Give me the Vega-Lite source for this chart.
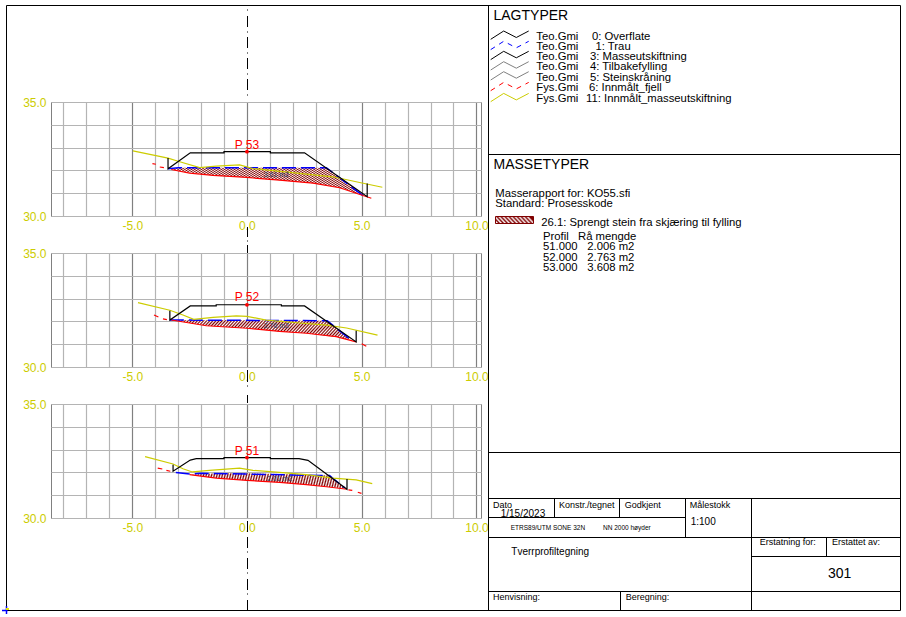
{"$schema":"https://vega.github.io/schema/vega-lite/v6.json","padding":0,"bounds":"flush","spacing":437,"background":"white",
"config":{"view":{"stroke":"#808080"},"text":{"font":"Liberation Sans","baseline":"middle","align":"left"},"axis":{"labelFont":"Liberation Sans"},
"area":{"fill":{"gradient":"linear","x1":0,"y1":1,"x2":1.17,"y2":0.72,"stops":[{"offset":0,"color":"#800000"},{"offset":0.007,"color":"#fff"},{"offset":0.014,"color":"#800000"},{"offset":0.021,"color":"#fff"},{"offset":0.028,"color":"#800000"},{"offset":0.035,"color":"#fff"},{"offset":0.042,"color":"#800000"},{"offset":0.049,"color":"#fff"},{"offset":0.056,"color":"#800000"},{"offset":0.063,"color":"#fff"},{"offset":0.07,"color":"#800000"},{"offset":0.077,"color":"#fff"},{"offset":0.084,"color":"#800000"},{"offset":0.091,"color":"#fff"},{"offset":0.098,"color":"#800000"},{"offset":0.105,"color":"#fff"},{"offset":0.112,"color":"#800000"},{"offset":0.119,"color":"#fff"},{"offset":0.126,"color":"#800000"},{"offset":0.133,"color":"#fff"},{"offset":0.14,"color":"#800000"},{"offset":0.147,"color":"#fff"},{"offset":0.154,"color":"#800000"},{"offset":0.161,"color":"#fff"},{"offset":0.168,"color":"#800000"},{"offset":0.175,"color":"#fff"},{"offset":0.182,"color":"#800000"},{"offset":0.189,"color":"#fff"},{"offset":0.196,"color":"#800000"},{"offset":0.203,"color":"#fff"},{"offset":0.21,"color":"#800000"},{"offset":0.217,"color":"#fff"},{"offset":0.224,"color":"#800000"},{"offset":0.231,"color":"#fff"},{"offset":0.238,"color":"#800000"},{"offset":0.245,"color":"#fff"},{"offset":0.252,"color":"#800000"},{"offset":0.259,"color":"#fff"},{"offset":0.266,"color":"#800000"},{"offset":0.273,"color":"#fff"},{"offset":0.28,"color":"#800000"},{"offset":0.287,"color":"#fff"},{"offset":0.294,"color":"#800000"},{"offset":0.301,"color":"#fff"},{"offset":0.308,"color":"#800000"},{"offset":0.315,"color":"#fff"},{"offset":0.322,"color":"#800000"},{"offset":0.329,"color":"#fff"},{"offset":0.336,"color":"#800000"},{"offset":0.343,"color":"#fff"},{"offset":0.35,"color":"#800000"},{"offset":0.357,"color":"#fff"},{"offset":0.364,"color":"#800000"},{"offset":0.371,"color":"#fff"},{"offset":0.378,"color":"#800000"},{"offset":0.385,"color":"#fff"},{"offset":0.392,"color":"#800000"},{"offset":0.399,"color":"#fff"},{"offset":0.406,"color":"#800000"},{"offset":0.413,"color":"#fff"},{"offset":0.42,"color":"#800000"},{"offset":0.427,"color":"#fff"},{"offset":0.434,"color":"#800000"},{"offset":0.441,"color":"#fff"},{"offset":0.448,"color":"#800000"},{"offset":0.455,"color":"#fff"},{"offset":0.462,"color":"#800000"},{"offset":0.469,"color":"#fff"},{"offset":0.476,"color":"#800000"},{"offset":0.483,"color":"#fff"},{"offset":0.49,"color":"#800000"},{"offset":0.497,"color":"#fff"},{"offset":0.504,"color":"#800000"},{"offset":0.511,"color":"#fff"},{"offset":0.518,"color":"#800000"},{"offset":0.525,"color":"#fff"},{"offset":0.532,"color":"#800000"},{"offset":0.539,"color":"#fff"},{"offset":0.546,"color":"#800000"},{"offset":0.553,"color":"#fff"},{"offset":0.56,"color":"#800000"},{"offset":0.567,"color":"#fff"},{"offset":0.574,"color":"#800000"},{"offset":0.581,"color":"#fff"},{"offset":0.588,"color":"#800000"},{"offset":0.595,"color":"#fff"},{"offset":0.602,"color":"#800000"},{"offset":0.609,"color":"#fff"},{"offset":0.616,"color":"#800000"},{"offset":0.623,"color":"#fff"},{"offset":0.63,"color":"#800000"},{"offset":0.637,"color":"#fff"},{"offset":0.644,"color":"#800000"},{"offset":0.651,"color":"#fff"},{"offset":0.658,"color":"#800000"},{"offset":0.665,"color":"#fff"},{"offset":0.672,"color":"#800000"},{"offset":0.679,"color":"#fff"},{"offset":0.686,"color":"#800000"},{"offset":0.693,"color":"#fff"},{"offset":0.7,"color":"#800000"},{"offset":0.707,"color":"#fff"},{"offset":0.714,"color":"#800000"},{"offset":0.721,"color":"#fff"},{"offset":0.728,"color":"#800000"},{"offset":0.735,"color":"#fff"},{"offset":0.742,"color":"#800000"},{"offset":0.749,"color":"#fff"},{"offset":0.756,"color":"#800000"},{"offset":0.763,"color":"#fff"},{"offset":0.77,"color":"#800000"},{"offset":0.777,"color":"#fff"},{"offset":0.784,"color":"#800000"},{"offset":0.791,"color":"#fff"},{"offset":0.798,"color":"#800000"},{"offset":0.805,"color":"#fff"},{"offset":0.812,"color":"#800000"},{"offset":0.819,"color":"#fff"},{"offset":0.826,"color":"#800000"},{"offset":0.833,"color":"#fff"},{"offset":0.84,"color":"#800000"},{"offset":0.847,"color":"#fff"},{"offset":0.854,"color":"#800000"},{"offset":0.861,"color":"#fff"},{"offset":0.868,"color":"#800000"},{"offset":0.875,"color":"#fff"},{"offset":0.882,"color":"#800000"},{"offset":0.889,"color":"#fff"},{"offset":0.896,"color":"#800000"},{"offset":0.903,"color":"#fff"},{"offset":0.91,"color":"#800000"},{"offset":0.917,"color":"#fff"},{"offset":0.924,"color":"#800000"},{"offset":0.931,"color":"#fff"},{"offset":0.938,"color":"#800000"},{"offset":0.945,"color":"#fff"},{"offset":0.952,"color":"#800000"},{"offset":0.959,"color":"#fff"},{"offset":0.966,"color":"#800000"},{"offset":0.973,"color":"#fff"},{"offset":0.98,"color":"#800000"},{"offset":0.987,"color":"#fff"},{"offset":0.994,"color":"#800000"},{"offset":1,"color":"#fff"}]}}},
"datasets":{
"profiles":[
{"p":"P 53","kind":"hatch","x":-3.3,"y":32.04,"y2":32.04},{"p":"P 53","kind":"hatch","x":-3.0,"y":32.12,"y2":31.97},{"p":"P 53","kind":"hatch","x":-1.48,"y":32.12,"y2":31.78},{"p":"P 53","kind":"hatch","x":0,"y":32.12,"y2":31.69},{"p":"P 53","kind":"hatch","x":1.42,"y":32.12,"y2":31.57},{"p":"P 53","kind":"hatch","x":2.88,"y":32.12,"y2":31.44},{"p":"P 53","kind":"hatch","x":3.46,"y":32.1,"y2":31.34},{"p":"P 53","kind":"hatch","x":4.04,"y":31.69,"y2":31.24},{"p":"P 53","kind":"hatch","x":4.76,"y":31.19,"y2":31.0},{"p":"P 53","kind":"hatch","x":5.05,"y":30.95,"y2":30.9},
{"p":"P 52","kind":"hatch","x":-3.3,"y":32.06,"y2":32.06},{"p":"P 52","kind":"hatch","x":-2.5,"y":32.05,"y2":31.93},{"p":"P 52","kind":"hatch","x":-1.77,"y":32.05,"y2":31.81},{"p":"P 52","kind":"hatch","x":0,"y":32.05,"y2":31.7},{"p":"P 52","kind":"hatch","x":1.42,"y":32.04,"y2":31.56},{"p":"P 52","kind":"hatch","x":2.59,"y":32.03,"y2":31.48},{"p":"P 52","kind":"hatch","x":3.5,"y":32.03,"y2":31.36},{"p":"P 52","kind":"hatch","x":3.89,"y":31.71,"y2":31.33},{"p":"P 52","kind":"hatch","x":4.5,"y":31.2,"y2":31.2},
{"p":"P 51","kind":"hatch","x":-2.5,"y":31.9,"y2":31.9},{"p":"P 51","kind":"hatch","x":-1.34,"y":31.96,"y2":31.75},{"p":"P 51","kind":"hatch","x":0,"y":31.96,"y2":31.65},{"p":"P 51","kind":"hatch","x":1.42,"y":31.93,"y2":31.56},{"p":"P 51","kind":"hatch","x":2.59,"y":31.9,"y2":31.46},{"p":"P 51","kind":"hatch","x":3.6,"y":31.86,"y2":31.36},{"p":"P 51","kind":"hatch","x":4.26,"y":31.32,"y2":31.29},
{"p":"P 53","kind":"dash","layer":"Trau","seg":"a","i":0,"x":-3.44,"y":32.07},{"p":"P 53","kind":"dash","layer":"Trau","seg":"a","i":1,"x":-3.0,"y":32.12},{"p":"P 53","kind":"dash","layer":"Trau","seg":"a","i":2,"x":3.46,"y":32.12},{"p":"P 53","kind":"dash","layer":"Trau","seg":"a","i":3,"x":5.05,"y":30.9},
{"p":"P 52","kind":"dash","layer":"Trau","seg":"a","i":0,"x":-3.36,"y":32.06},{"p":"P 52","kind":"dash","layer":"Trau","seg":"a","i":1,"x":3.5,"y":32.03},{"p":"P 52","kind":"dash","layer":"Trau","seg":"a","i":2,"x":4.45,"y":31.25},
{"p":"P 51","kind":"dash","layer":"Trau","seg":"a","i":0,"x":-3.1,"y":32.0},{"p":"P 51","kind":"dash","layer":"Trau","seg":"a","i":1,"x":-2.5,"y":31.93},{"p":"P 51","kind":"dash","layer":"Trau","seg":"a","i":2,"x":-2.0,"y":31.96},{"p":"P 51","kind":"dash","layer":"Trau","seg":"a","i":3,"x":3.6,"y":31.86},{"p":"P 51","kind":"dash","layer":"Trau","seg":"a","i":4,"x":4.26,"y":31.32},
{"p":"P 53","kind":"line","layer":"Innmalt_fjell","seg":"a","i":0,"x":-4.12,"y":32.3},{"p":"P 53","kind":"line","layer":"Innmalt_fjell","seg":"a","i":1,"x":-3.97,"y":32.27},{"p":"P 53","kind":"line","layer":"Innmalt_fjell","seg":"b","i":2,"x":-3.8,"y":32.15},{"p":"P 53","kind":"line","layer":"Innmalt_fjell","seg":"b","i":3,"x":-3.62,"y":32.12},{"p":"P 53","kind":"line","layer":"Innmalt_fjell","seg":"c","i":4,"x":-3.3,"y":32.04},{"p":"P 53","kind":"line","layer":"Innmalt_fjell","seg":"c","i":5,"x":-2.5,"y":31.88},{"p":"P 53","kind":"line","layer":"Innmalt_fjell","seg":"c","i":6,"x":-1.48,"y":31.78},{"p":"P 53","kind":"line","layer":"Innmalt_fjell","seg":"c","i":7,"x":0,"y":31.69},{"p":"P 53","kind":"line","layer":"Innmalt_fjell","seg":"c","i":8,"x":1.42,"y":31.57},{"p":"P 53","kind":"line","layer":"Innmalt_fjell","seg":"c","i":9,"x":2.88,"y":31.44},{"p":"P 53","kind":"line","layer":"Innmalt_fjell","seg":"c","i":10,"x":4.04,"y":31.24},{"p":"P 53","kind":"line","layer":"Innmalt_fjell","seg":"c","i":11,"x":4.76,"y":31.0},{"p":"P 53","kind":"line","layer":"Innmalt_fjell","seg":"c","i":12,"x":5.42,"y":30.78},
{"p":"P 52","kind":"line","layer":"Innmalt_fjell","seg":"a","i":0,"x":-4.05,"y":32.28},{"p":"P 52","kind":"line","layer":"Innmalt_fjell","seg":"a","i":1,"x":-3.86,"y":32.19},{"p":"P 52","kind":"line","layer":"Innmalt_fjell","seg":"b","i":2,"x":-3.66,"y":32.11},{"p":"P 52","kind":"line","layer":"Innmalt_fjell","seg":"b","i":3,"x":-3.49,"y":32.08},{"p":"P 52","kind":"line","layer":"Innmalt_fjell","seg":"c","i":4,"x":-3.3,"y":32.06},{"p":"P 52","kind":"line","layer":"Innmalt_fjell","seg":"c","i":5,"x":-2.5,"y":31.93},{"p":"P 52","kind":"line","layer":"Innmalt_fjell","seg":"c","i":6,"x":-1.77,"y":31.81},{"p":"P 52","kind":"line","layer":"Innmalt_fjell","seg":"c","i":7,"x":0,"y":31.7},{"p":"P 52","kind":"line","layer":"Innmalt_fjell","seg":"c","i":8,"x":1.42,"y":31.56},{"p":"P 52","kind":"line","layer":"Innmalt_fjell","seg":"c","i":9,"x":2.59,"y":31.48},{"p":"P 52","kind":"line","layer":"Innmalt_fjell","seg":"c","i":10,"x":3.89,"y":31.33},{"p":"P 52","kind":"line","layer":"Innmalt_fjell","seg":"c","i":11,"x":4.76,"y":31.1},{"p":"P 52","kind":"line","layer":"Innmalt_fjell","seg":"d","i":12,"x":5.0,"y":31.02},{"p":"P 52","kind":"line","layer":"Innmalt_fjell","seg":"d","i":13,"x":5.2,"y":30.91},
{"p":"P 51","kind":"line","layer":"Innmalt_fjell","seg":"a","i":0,"x":-3.89,"y":32.19},{"p":"P 51","kind":"line","layer":"Innmalt_fjell","seg":"a","i":1,"x":-3.69,"y":32.15},{"p":"P 51","kind":"line","layer":"Innmalt_fjell","seg":"b","i":2,"x":-3.51,"y":32.09},{"p":"P 51","kind":"line","layer":"Innmalt_fjell","seg":"b","i":3,"x":-3.34,"y":32.05},{"p":"P 51","kind":"line","layer":"Innmalt_fjell","seg":"c","i":4,"x":-2.5,"y":31.9},{"p":"P 51","kind":"line","layer":"Innmalt_fjell","seg":"c","i":5,"x":-1.34,"y":31.75},{"p":"P 51","kind":"line","layer":"Innmalt_fjell","seg":"c","i":6,"x":0,"y":31.65},{"p":"P 51","kind":"line","layer":"Innmalt_fjell","seg":"c","i":7,"x":1.42,"y":31.56},{"p":"P 51","kind":"line","layer":"Innmalt_fjell","seg":"c","i":8,"x":2.59,"y":31.46},{"p":"P 51","kind":"line","layer":"Innmalt_fjell","seg":"c","i":9,"x":3.46,"y":31.37},{"p":"P 51","kind":"line","layer":"Innmalt_fjell","seg":"c","i":10,"x":4.36,"y":31.26},{"p":"P 51","kind":"line","layer":"Innmalt_fjell","seg":"d","i":11,"x":4.42,"y":31.23},{"p":"P 51","kind":"line","layer":"Innmalt_fjell","seg":"d","i":12,"x":4.59,"y":31.21},{"p":"P 51","kind":"line","layer":"Innmalt_fjell","seg":"e","i":13,"x":4.83,"y":31.13},{"p":"P 51","kind":"line","layer":"Innmalt_fjell","seg":"e","i":14,"x":4.99,"y":31.08},
{"p":"P 53","kind":"line","layer":"Innmalt_masseutskiftning","seg":"a","i":0,"x":-4.97,"y":32.86},{"p":"P 53","kind":"line","layer":"Innmalt_masseutskiftning","seg":"a","i":1,"x":-3.44,"y":32.54},{"p":"P 53","kind":"line","layer":"Innmalt_masseutskiftning","seg":"a","i":2,"x":-2.93,"y":32.38},{"p":"P 53","kind":"line","layer":"Innmalt_masseutskiftning","seg":"a","i":3,"x":-2.06,"y":32.12},{"p":"P 53","kind":"line","layer":"Innmalt_masseutskiftning","seg":"a","i":4,"x":-1.34,"y":32.19},{"p":"P 53","kind":"line","layer":"Innmalt_masseutskiftning","seg":"a","i":5,"x":-0.32,"y":32.24},{"p":"P 53","kind":"line","layer":"Innmalt_masseutskiftning","seg":"a","i":6,"x":0.26,"y":32.08},{"p":"P 53","kind":"line","layer":"Innmalt_masseutskiftning","seg":"a","i":7,"x":1.13,"y":31.99},{"p":"P 53","kind":"line","layer":"Innmalt_masseutskiftning","seg":"a","i":8,"x":2.59,"y":31.84},{"p":"P 53","kind":"line","layer":"Innmalt_masseutskiftning","seg":"a","i":9,"x":3.75,"y":31.72},{"p":"P 53","kind":"line","layer":"Innmalt_masseutskiftning","seg":"a","i":10,"x":4.91,"y":31.47},{"p":"P 53","kind":"line","layer":"Innmalt_masseutskiftning","seg":"a","i":11,"x":5.9,"y":31.26},
{"p":"P 52","kind":"line","layer":"Innmalt_masseutskiftning","seg":"a","i":0,"x":-4.75,"y":32.82},{"p":"P 52","kind":"line","layer":"Innmalt_masseutskiftning","seg":"a","i":1,"x":-3.36,"y":32.49},{"p":"P 52","kind":"line","layer":"Innmalt_masseutskiftning","seg":"a","i":2,"x":-2.79,"y":32.28},{"p":"P 52","kind":"line","layer":"Innmalt_masseutskiftning","seg":"a","i":3,"x":-2.32,"y":32.09},{"p":"P 52","kind":"line","layer":"Innmalt_masseutskiftning","seg":"a","i":4,"x":-1.48,"y":32.18},{"p":"P 52","kind":"line","layer":"Innmalt_masseutskiftning","seg":"a","i":5,"x":-0.46,"y":32.24},{"p":"P 52","kind":"line","layer":"Innmalt_masseutskiftning","seg":"a","i":6,"x":0,"y":32.22},{"p":"P 52","kind":"line","layer":"Innmalt_masseutskiftning","seg":"a","i":7,"x":0.84,"y":32.06},{"p":"P 52","kind":"line","layer":"Innmalt_masseutskiftning","seg":"a","i":8,"x":2.31,"y":31.93},{"p":"P 52","kind":"line","layer":"Innmalt_masseutskiftning","seg":"a","i":9,"x":3.47,"y":31.84},{"p":"P 52","kind":"line","layer":"Innmalt_masseutskiftning","seg":"a","i":10,"x":4.34,"y":31.71},{"p":"P 52","kind":"line","layer":"Innmalt_masseutskiftning","seg":"a","i":11,"x":5.69,"y":31.4},
{"p":"P 51","kind":"line","layer":"Innmalt_masseutskiftning","seg":"a","i":0,"x":-4.44,"y":32.69},{"p":"P 51","kind":"line","layer":"Innmalt_masseutskiftning","seg":"a","i":1,"x":-3.22,"y":32.37},{"p":"P 51","kind":"line","layer":"Innmalt_masseutskiftning","seg":"a","i":2,"x":-2.79,"y":32.16},{"p":"P 51","kind":"line","layer":"Innmalt_masseutskiftning","seg":"a","i":3,"x":-2.38,"y":32.02},{"p":"P 51","kind":"line","layer":"Innmalt_masseutskiftning","seg":"a","i":4,"x":-1.63,"y":32.09},{"p":"P 51","kind":"line","layer":"Innmalt_masseutskiftning","seg":"a","i":5,"x":-0.32,"y":32.19},{"p":"P 51","kind":"line","layer":"Innmalt_masseutskiftning","seg":"a","i":6,"x":0.26,"y":32.09},{"p":"P 51","kind":"line","layer":"Innmalt_masseutskiftning","seg":"a","i":7,"x":1.42,"y":32.0},{"p":"P 51","kind":"line","layer":"Innmalt_masseutskiftning","seg":"a","i":8,"x":2.59,"y":31.9},{"p":"P 51","kind":"line","layer":"Innmalt_masseutskiftning","seg":"a","i":9,"x":3.75,"y":31.75},{"p":"P 51","kind":"line","layer":"Innmalt_masseutskiftning","seg":"a","i":10,"x":4.76,"y":31.67},{"p":"P 51","kind":"line","layer":"Innmalt_masseutskiftning","seg":"a","i":11,"x":5.46,"y":31.51},
{"p":"P 53","kind":"line","layer":"Overflate","seg":"a","i":0,"x":-3.44,"y":32.54},{"p":"P 53","kind":"line","layer":"Overflate","seg":"a","i":1,"x":-3.44,"y":32.07},{"p":"P 53","kind":"line","layer":"Overflate","seg":"a","i":2,"x":-2.47,"y":32.77},{"p":"P 53","kind":"line","layer":"Overflate","seg":"a","i":3,"x":-1.0,"y":32.77},{"p":"P 53","kind":"line","layer":"Overflate","seg":"a","i":4,"x":-1.0,"y":32.82},{"p":"P 53","kind":"line","layer":"Overflate","seg":"a","i":5,"x":1.02,"y":32.82},{"p":"P 53","kind":"line","layer":"Overflate","seg":"a","i":6,"x":1.02,"y":32.77},{"p":"P 53","kind":"line","layer":"Overflate","seg":"a","i":7,"x":2.51,"y":32.77},{"p":"P 53","kind":"line","layer":"Overflate","seg":"a","i":8,"x":5.24,"y":30.85},{"p":"P 53","kind":"line","layer":"Overflate","seg":"a","i":9,"x":5.24,"y":31.42},
{"p":"P 52","kind":"line","layer":"Overflate","seg":"a","i":0,"x":-3.36,"y":32.47},{"p":"P 52","kind":"line","layer":"Overflate","seg":"a","i":1,"x":-3.36,"y":32.06},{"p":"P 52","kind":"line","layer":"Overflate","seg":"a","i":2,"x":-2.47,"y":32.68},{"p":"P 52","kind":"line","layer":"Overflate","seg":"a","i":3,"x":-1.34,"y":32.68},{"p":"P 52","kind":"line","layer":"Overflate","seg":"a","i":4,"x":-1.34,"y":32.73},{"p":"P 52","kind":"line","layer":"Overflate","seg":"a","i":5,"x":1.5,"y":32.73},{"p":"P 52","kind":"line","layer":"Overflate","seg":"a","i":6,"x":1.5,"y":32.68},{"p":"P 52","kind":"line","layer":"Overflate","seg":"a","i":7,"x":2.51,"y":32.68},{"p":"P 52","kind":"line","layer":"Overflate","seg":"a","i":8,"x":4.76,"y":31.1},{"p":"P 52","kind":"line","layer":"Overflate","seg":"a","i":9,"x":4.76,"y":31.59},
{"p":"P 51","kind":"line","layer":"Overflate","seg":"a","i":0,"x":-3.22,"y":32.34},{"p":"P 51","kind":"line","layer":"Overflate","seg":"a","i":1,"x":-3.22,"y":32.05},{"p":"P 51","kind":"line","layer":"Overflate","seg":"a","i":2,"x":-2.47,"y":32.54},{"p":"P 51","kind":"line","layer":"Overflate","seg":"a","i":3,"x":-2.21,"y":32.6},{"p":"P 51","kind":"line","layer":"Overflate","seg":"a","i":4,"x":-1.0,"y":32.6},{"p":"P 51","kind":"line","layer":"Overflate","seg":"a","i":5,"x":-1.0,"y":32.65},{"p":"P 51","kind":"line","layer":"Overflate","seg":"a","i":6,"x":1.02,"y":32.65},{"p":"P 51","kind":"line","layer":"Overflate","seg":"a","i":7,"x":1.02,"y":32.6},{"p":"P 51","kind":"line","layer":"Overflate","seg":"a","i":8,"x":2.27,"y":32.6},{"p":"P 51","kind":"line","layer":"Overflate","seg":"a","i":9,"x":2.66,"y":32.53},{"p":"P 51","kind":"line","layer":"Overflate","seg":"a","i":10,"x":4.36,"y":31.26},{"p":"P 51","kind":"line","layer":"Overflate","seg":"a","i":11,"x":4.36,"y":31.71},
{"p":"P 53","kind":"marker","x":0,"y":32.82},{"p":"P 52","kind":"marker","x":0,"y":32.73},{"p":"P 51","kind":"marker","x":0,"y":32.65},
{"p":"P 53","kind":"name","x":0,"y":33.12,"text":"P 53"},{"p":"P 52","kind":"name","x":0,"y":33.05,"text":"P 52"},{"p":"P 51","kind":"name","x":0,"y":32.92,"text":"P 51"},
{"p":"P 53","kind":"volume","x":1.28,"y":31.79,"text":"3.61 m2"},{"p":"P 52","kind":"volume","x":1.28,"y":31.78,"text":"2.76 m2"},{"p":"P 51","kind":"volume","x":1.42,"y":31.71,"text":"2.01 m2"}
],
"sheet":[
{"kind":"page","x":0.5,"x2":905,"y":0.5,"y2":616},
{"kind":"rule","x":6.5,"x2":900.5,"y":5.5,"y2":5.5},{"kind":"rule","x":6.5,"x2":900.5,"y":610.5,"y2":610.5},{"kind":"rule","x":6.5,"x2":6.5,"y":5.5,"y2":610.5},{"kind":"rule","x":900.5,"x2":900.5,"y":5.5,"y2":610.5},{"kind":"rule","x":488.5,"x2":488.5,"y":5.5,"y2":610.5},
{"kind":"rule","x":488.5,"x2":900.5,"y":154.5,"y2":154.5},{"kind":"rule","x":488.5,"x2":900.5,"y":452.5,"y2":452.5},{"kind":"rule","x":488.5,"x2":900.5,"y":498.5,"y2":498.5},{"kind":"rule","x":488.5,"x2":685.5,"y":517.5,"y2":517.5},{"kind":"rule","x":488.5,"x2":900.5,"y":537.5,"y2":537.5},{"kind":"rule","x":751.5,"x2":900.5,"y":556.5,"y2":556.5},{"kind":"rule","x":488.5,"x2":900.5,"y":591.5,"y2":591.5},
{"kind":"rule","x":554.5,"x2":554.5,"y":498.5,"y2":517.5},{"kind":"rule","x":619.5,"x2":619.5,"y":498.5,"y2":517.5},{"kind":"rule","x":685.5,"x2":685.5,"y":498.5,"y2":537.5},{"kind":"rule","x":751.5,"x2":751.5,"y":498.5,"y2":610.5},{"kind":"rule","x":826.5,"x2":826.5,"y":537.5,"y2":556.5},{"kind":"rule","x":620.5,"x2":620.5,"y":591.5,"y2":610.5},
{"kind":"rule","x":247.5,"x2":247.5,"y":9.5,"y2":10.5},{"kind":"rule","x":247.5,"x2":247.5,"y":16,"y2":27},{"kind":"rule","x":247.5,"x2":247.5,"y":31.5,"y2":32.5},{"kind":"rule","x":247.5,"x2":247.5,"y":37,"y2":48},{"kind":"rule","x":247.5,"x2":247.5,"y":52.5,"y2":53.5},{"kind":"rule","x":247.5,"x2":247.5,"y":58,"y2":69},{"kind":"rule","x":247.5,"x2":247.5,"y":73.5,"y2":74.5},{"kind":"rule","x":247.5,"x2":247.5,"y":79,"y2":90},{"kind":"rule","x":247.5,"x2":247.5,"y":94.5,"y2":95.5},
{"kind":"rule","x":247.5,"x2":247.5,"y":227,"y2":237},{"kind":"rule","x":247.5,"x2":247.5,"y":240.5,"y2":241.5},{"kind":"rule","x":247.5,"x2":247.5,"y":245,"y2":253},
{"kind":"rule","x":247.5,"x2":247.5,"y":370,"y2":382},{"kind":"rule","x":247.5,"x2":247.5,"y":385.5,"y2":386.5},{"kind":"rule","x":247.5,"x2":247.5,"y":395,"y2":403},
{"kind":"rule","x":247.5,"x2":247.5,"y":521,"y2":532},{"kind":"rule","x":247.5,"x2":247.5,"y":537,"y2":548},{"kind":"rule","x":247.5,"x2":247.5,"y":551.5,"y2":552.5},{"kind":"rule","x":247.5,"x2":247.5,"y":558,"y2":569},{"kind":"rule","x":247.5,"x2":247.5,"y":572.5,"y2":573.5},{"kind":"rule","x":247.5,"x2":247.5,"y":579,"y2":590},{"kind":"rule","x":247.5,"x2":247.5,"y":593.5,"y2":594.5},{"kind":"rule","x":247.5,"x2":247.5,"y":600,"y2":610},
{"kind":"origin","x":2,"x2":7.5,"y":610.5,"y2":610.5},{"kind":"origin","x":6.5,"x2":6.5,"y":606,"y2":614},{"kind":"originmark","x":6,"x2":9,"y":609,"y2":609},
{"kind":"swatch","x":495.5,"x2":533.5,"y":216.5,"y2":223.5},
{"kind":"heading","x":493.5,"y":15,"text":"LAGTYPER"},{"kind":"heading","x":493.5,"y":164,"text":"MASSETYPER"},
{"kind":"body","x":536.3,"y":35.5,"text":"Teo.Gmi"},{"kind":"body","x":536.3,"y":45.7,"text":"Teo.Gmi"},{"kind":"body","x":536.3,"y":55.7,"text":"Teo.Gmi"},{"kind":"body","x":536.3,"y":66.3,"text":"Teo.Gmi"},{"kind":"body","x":536.3,"y":76.7,"text":"Teo.Gmi"},{"kind":"body","x":536.3,"y":87.3,"text":"Fys.Gmi"},{"kind":"body","x":536.3,"y":98.3,"text":"Fys.Gmi"},
{"kind":"body","x":592,"y":35.5,"text":"0: Overflate"},{"kind":"body","x":595.5,"y":45.7,"text":"1: Trau"},{"kind":"body","x":590,"y":55.7,"text":"3: Masseutskiftning"},{"kind":"body","x":590,"y":66.3,"text":"4: Tilbakefylling"},{"kind":"body","x":590,"y":76.7,"text":"5: Steinskråning"},{"kind":"body","x":589,"y":87.3,"text":"6: Innmålt_fjell"},{"kind":"body","x":586,"y":98.3,"text":"11: Innmålt_masseutskiftning"},
{"kind":"body","x":495.3,"y":193.3,"text":"Masserapport for: KO55.sfi"},{"kind":"body","x":495.3,"y":203.3,"text":"Standard: Prosesskode"},{"kind":"body","x":541.3,"y":221.7,"text":"26.1: Sprengt stein fra skjæring til fylling"},
{"kind":"body","x":543,"y":236,"text":"Profil"},{"kind":"body","x":578,"y":236,"text":"Rå mengde"},{"kind":"body","x":543,"y":246,"text":"51.000"},{"kind":"body","x":587.3,"y":246,"text":"2.006 m2"},{"kind":"body","x":543,"y":256.7,"text":"52.000"},{"kind":"body","x":587.3,"y":256.7,"text":"2.763 m2"},{"kind":"body","x":543,"y":267,"text":"53.000"},{"kind":"body","x":587.3,"y":267,"text":"3.608 m2"},
{"kind":"field","x":493,"y":504,"text":"Dato"},{"kind":"field","x":559,"y":504,"text":"Konstr./tegnet"},{"kind":"field","x":624.7,"y":504,"text":"Godkjent"},{"kind":"field","x":689.7,"y":504,"text":"Målestokk"},{"kind":"field","x":759.7,"y":541,"text":"Erstatning for:"},{"kind":"field","x":832,"y":541,"text":"Erstattet av:"},{"kind":"field","x":493,"y":596,"text":"Henvisning:"},{"kind":"field","x":625.7,"y":596,"text":"Beregning:"},
{"kind":"value","x":500.7,"y":513.3,"text":"1/15/2023"},{"kind":"value","x":690.7,"y":520.7,"text":"1:100"},{"kind":"value","x":511.3,"y":551,"text":"Tverrprofiltegning"},
{"kind":"tiny","x":510.7,"y":526.7,"text":"ETRS89/UTM SONE 32N"},{"kind":"tiny","x":603,"y":526.7,"text":"NN 2000 høyder"},
{"kind":"number","x":828,"y":572.7,"text":"301"},
{"kind":"sample","layer":"Overflate","row":"0","i":0,"x":490.7,"y":39.3},{"kind":"sample","layer":"Overflate","row":"0","i":1,"x":503.7,"y":31},{"kind":"sample","layer":"Overflate","row":"0","i":2,"x":516.3,"y":37.5},{"kind":"sample","layer":"Overflate","row":"0","i":3,"x":528.7,"y":31},
{"kind":"sampledash","layer":"Trau","row":"1","i":0,"x":490.7,"y":49.6},{"kind":"sampledash","layer":"Trau","row":"1","i":1,"x":503.7,"y":41.3},{"kind":"sampledash","layer":"Trau","row":"1","i":2,"x":516.3,"y":47.8},{"kind":"sampledash","layer":"Trau","row":"1","i":3,"x":528.7,"y":41.3},
{"kind":"sample","layer":"Masseutskiftning","row":"3","i":0,"x":490.7,"y":59.6},{"kind":"sample","layer":"Masseutskiftning","row":"3","i":1,"x":503.7,"y":51.3},{"kind":"sample","layer":"Masseutskiftning","row":"3","i":2,"x":516.3,"y":57.8},{"kind":"sample","layer":"Masseutskiftning","row":"3","i":3,"x":528.7,"y":51.3},
{"kind":"sample","layer":"Tilbakefylling","row":"4","i":0,"x":490.7,"y":70},{"kind":"sample","layer":"Tilbakefylling","row":"4","i":1,"x":503.7,"y":61.7},{"kind":"sample","layer":"Tilbakefylling","row":"4","i":2,"x":516.3,"y":68.2},{"kind":"sample","layer":"Tilbakefylling","row":"4","i":3,"x":528.7,"y":61.7},
{"kind":"sample","layer":"Steinskraning","row":"5","i":0,"x":490.7,"y":80},{"kind":"sample","layer":"Steinskraning","row":"5","i":1,"x":503.7,"y":71.7},{"kind":"sample","layer":"Steinskraning","row":"5","i":2,"x":516.3,"y":78.2},{"kind":"sample","layer":"Steinskraning","row":"5","i":3,"x":528.7,"y":71.7},
{"kind":"sampledash","layer":"Innmalt_fjell","row":"6","i":0,"x":490.7,"y":90.7},{"kind":"sampledash","layer":"Innmalt_fjell","row":"6","i":1,"x":503.7,"y":82.4},{"kind":"sampledash","layer":"Innmalt_fjell","row":"6","i":2,"x":516.3,"y":88.9},{"kind":"sampledash","layer":"Innmalt_fjell","row":"6","i":3,"x":528.7,"y":82.4},
{"kind":"sample","layer":"Innmalt_masseutskiftning","row":"11","i":0,"x":490.7,"y":101.7},{"kind":"sample","layer":"Innmalt_masseutskiftning","row":"11","i":1,"x":503.7,"y":93.4},{"kind":"sample","layer":"Innmalt_masseutskiftning","row":"11","i":2,"x":516.3,"y":99.9},{"kind":"sample","layer":"Innmalt_masseutskiftning","row":"11","i":3,"x":528.7,"y":93.4}
]},
"hconcat":[
{"data":{"name":"profiles"},"facet":{"row":{"field":"p","type":"nominal","sort":"descending","header":null}},"spacing":37,"bounds":"flush","resolve":{"axis":{"x":"independent","y":"independent"}},
"spec":{"width":430,"height":114,
"encoding":{
"x":{"field":"x","type":"quantitative","title":null,"scale":{"domain":[-8.54,10.2],"nice":false,"zero":false},"axis":{"values":[-8,-7,-6,-5,-4,-3,-2,-1,0,1,2,3,4,5,6,7,8,9,10],"labelExpr":"datum.value === -5 ? '-5.0' : datum.value === 0 ? '0.0' : datum.value === 5 ? '5.0' : datum.value === 10 ? '10.0' : ''","grid":true,"gridColor":{"condition":{"test":"datum.value % 5 === 0","value":"#808080"},"value":"#b4b4b4"},"gridWidth":1.2,"domain":false,"ticks":false,"labelColor":"#cccc00","labelFontSize":12,"labelPadding":4,"labelOverlap":false,"labelBound":false,"labelFlush":false}},
"y":{"field":"y","type":"quantitative","title":null,"scale":{"domain":[30,35],"nice":false,"zero":false},"axis":{"values":[30,31,32,33,34,35],"labelExpr":"datum.value === 30 ? '30.0' : datum.value === 35 ? '35.0' : ''","grid":true,"gridColor":"#b4b4b4","gridWidth":1.2,"domain":false,"ticks":false,"labelColor":"#cccc00","labelFontSize":12,"labelPadding":5,"labelOverlap":false,"labelBound":false}}
},
"layer":[
{"transform":[{"filter":"datum.kind === 'hatch'"}],"mark":{"type":"area","interpolate":"linear"},"encoding":{"y2":{"field":"y2"}}},
{"transform":[{"filter":"datum.kind === 'dash'"}],"mark":{"type":"line","strokeWidth":1.5,"strokeDash":[14,5],"color":"#0000ff"},"encoding":{"order":{"field":"i","type":"quantitative"}}},
{"transform":[{"filter":"datum.kind === 'line'"}],"mark":{"type":"line","strokeWidth":1.2},"encoding":{"detail":{"field":"seg"},"order":{"field":"i","type":"quantitative"},"color":{"field":"layer","type":"nominal","legend":null,"scale":{"domain":["Overflate","Masseutskiftning","Tilbakefylling","Steinskraning","Innmalt_fjell","Innmalt_masseutskiftning"],"range":["#000000","#000000","#808080","#808080","#ff0000","#cccc00"]}}}},
{"transform":[{"filter":"datum.kind === 'marker'"}],"mark":{"type":"point","filled":true,"size":14,"color":"#ff0000","opacity":1}},
{"transform":[{"filter":"datum.kind === 'name'"}],"mark":{"type":"text","align":"center","fontSize":12,"color":"#ff0000"},"encoding":{"text":{"field":"text"}}},
{"transform":[{"filter":"datum.kind === 'volume'"}],"mark":{"type":"text","align":"center","fontSize":7,"color":"#334466"},"encoding":{"text":{"field":"text"}}}
]}},
{"data":{"name":"sheet"},"width":418,"height":416,"view":{"stroke":null},
"encoding":{
"x":{"field":"x","type":"quantitative","title":null,"axis":null,"scale":{"domain":[488,906],"nice":false,"zero":false}},
"y":{"field":"y","type":"quantitative","title":null,"axis":null,"scale":{"domain":[518,102],"nice":false,"zero":false}}
},
"layer":[
{"transform":[{"filter":"datum.kind === 'page'"}],"mark":{"type":"rect","opacity":0,"clip":false},"encoding":{"x2":{"field":"x2"},"y2":{"field":"y2"}}},
{"transform":[{"filter":"datum.kind === 'rule'"}],"mark":{"type":"rule","color":"#000000","strokeWidth":1},"encoding":{"x2":{"field":"x2"},"y2":{"field":"y2"}}},
{"transform":[{"filter":"datum.kind === 'origin'"}],"mark":{"type":"rule","color":"#0000ff","strokeWidth":1.5},"encoding":{"x2":{"field":"x2"},"y2":{"field":"y2"}}},
{"transform":[{"filter":"datum.kind === 'originmark'"}],"mark":{"type":"rule","color":"#e6e600","strokeWidth":2},"encoding":{"x2":{"field":"x2"},"y2":{"field":"y2"}}},
{"transform":[{"filter":"datum.kind === 'swatch'"}],"mark":{"type":"rect","stroke":"#800000","strokeWidth":1,"fill":{"gradient":"linear","x1":0,"y1":1,"x2":1.03,"y2":0.82,"stops":[{"offset":0,"color":"#800000"},{"offset":0.05,"color":"#fff"},{"offset":0.1,"color":"#800000"},{"offset":0.15,"color":"#fff"},{"offset":0.2,"color":"#800000"},{"offset":0.25,"color":"#fff"},{"offset":0.3,"color":"#800000"},{"offset":0.35,"color":"#fff"},{"offset":0.4,"color":"#800000"},{"offset":0.45,"color":"#fff"},{"offset":0.5,"color":"#800000"},{"offset":0.55,"color":"#fff"},{"offset":0.6,"color":"#800000"},{"offset":0.65,"color":"#fff"},{"offset":0.7,"color":"#800000"},{"offset":0.75,"color":"#fff"},{"offset":0.8,"color":"#800000"},{"offset":0.85,"color":"#fff"},{"offset":0.9,"color":"#800000"},{"offset":0.95,"color":"#fff"},{"offset":1,"color":"#800000"}]}},"encoding":{"x2":{"field":"x2"},"y2":{"field":"y2"}}},
{"transform":[{"filter":"datum.kind === 'sample'"}],"mark":{"type":"line","strokeWidth":1},"encoding":{"detail":{"field":"row"},"order":{"field":"i","type":"quantitative"},"color":{"field":"layer","type":"nominal","legend":null,"scale":{"domain":["Overflate","Masseutskiftning","Tilbakefylling","Steinskraning","Innmalt_fjell","Innmalt_masseutskiftning"],"range":["#000000","#000000","#808080","#808080","#ff0000","#cccc00"]}}}},
{"transform":[{"filter":"datum.kind === 'sampledash' && datum.layer === 'Trau'"}],"mark":{"type":"line","strokeWidth":1,"strokeDash":[5,5],"color":"#0000ff"},"encoding":{"order":{"field":"i","type":"quantitative"}}},
{"transform":[{"filter":"datum.kind === 'sampledash' && datum.layer === 'Innmalt_fjell'"}],"mark":{"type":"line","strokeWidth":1,"strokeDash":[5,5],"color":"#ff0000"},"encoding":{"order":{"field":"i","type":"quantitative"}}},
{"transform":[{"filter":"datum.kind === 'heading'"}],"mark":{"type":"text","fontSize":14,"dy":1,"color":"#000000"},"encoding":{"text":{"field":"text"}}},
{"transform":[{"filter":"datum.kind === 'body'"}],"mark":{"type":"text","fontSize":11.3,"dy":1,"color":"#000000"},"encoding":{"text":{"field":"text"}}},
{"transform":[{"filter":"datum.kind === 'field'"}],"mark":{"type":"text","fontSize":9,"dy":1,"color":"#000000"},"encoding":{"text":{"field":"text"}}},
{"transform":[{"filter":"datum.kind === 'value'"}],"mark":{"type":"text","fontSize":10,"dy":1,"color":"#000000"},"encoding":{"text":{"field":"text"}}},
{"transform":[{"filter":"datum.kind === 'tiny'"}],"mark":{"type":"text","fontSize":6.5,"dy":1,"color":"#000000"},"encoding":{"text":{"field":"text"}}},
{"transform":[{"filter":"datum.kind === 'number'"}],"mark":{"type":"text","fontSize":14,"dy":1,"color":"#000000"},"encoding":{"text":{"field":"text"}}}
]}
]}
